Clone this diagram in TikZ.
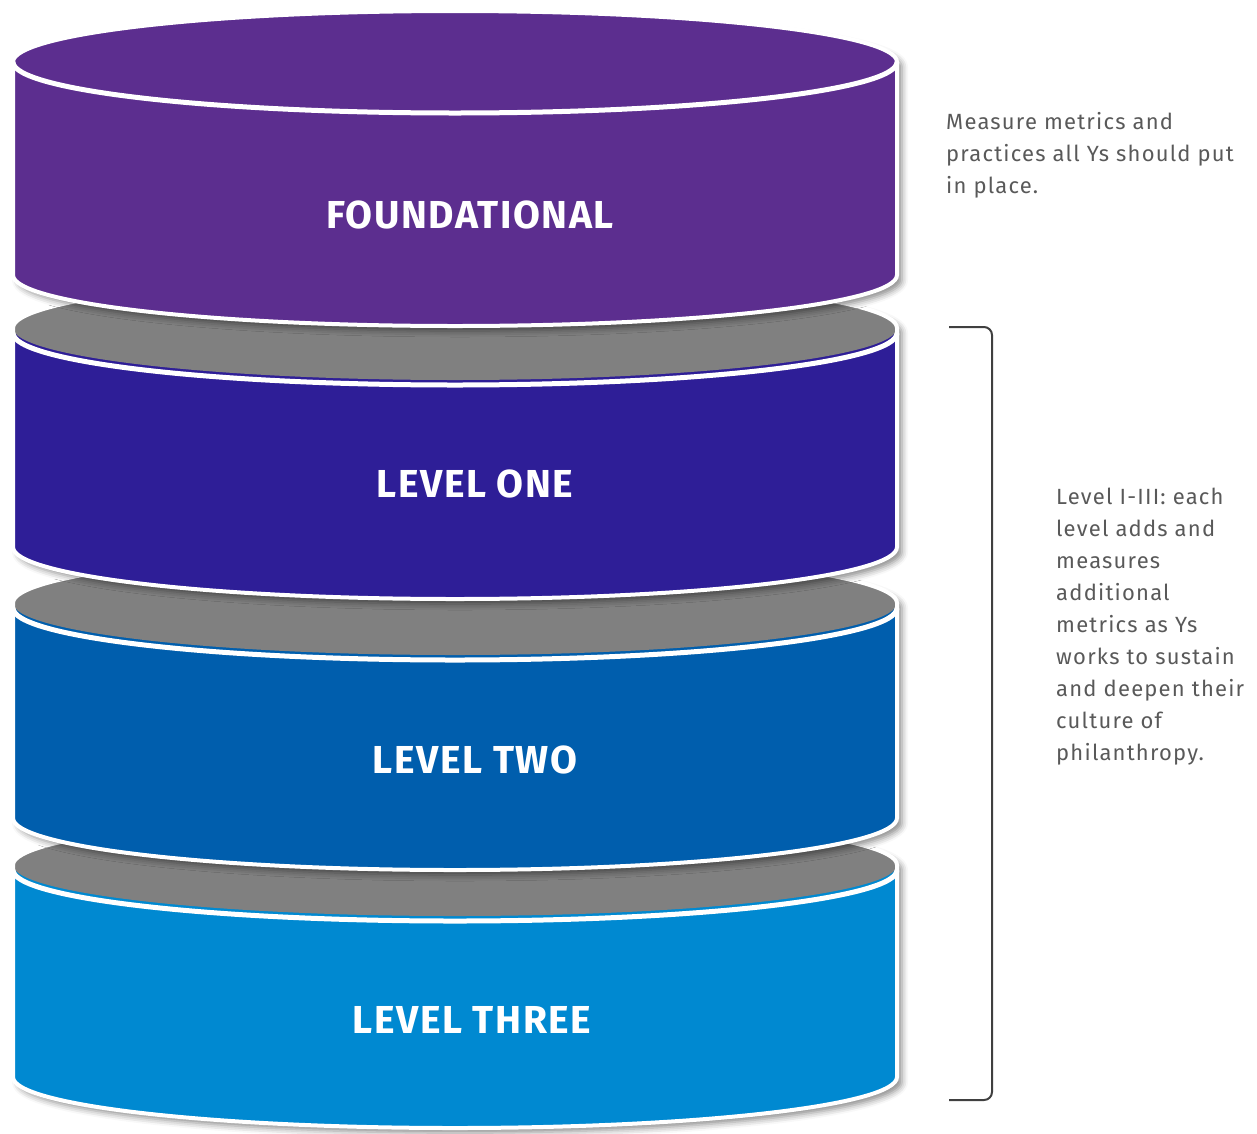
\documentclass[tikz,border=0pt]{standalone}
\usepackage{fontspec}
\setmainfont{Fira Sans}
\newfontfamily\notefont{Fira Sans}[LetterSpace=5.5]
\newfontfamily\titlefont{Fira Sans}[LetterSpace=4]
\usetikzlibrary{calc,shapes,backgrounds,shadows,shadows.blur,positioning}
\definecolor{found}{HTML}{5C2E8F}
\definecolor{lvlone}{HTML}{2E1E97}
\definecolor{lvltwo}{HTML}{005EAD}
\definecolor{lvlthree}{HTML}{0089D1}
\definecolor{lidgrey}{HTML}{808080}
\definecolor{notegrey}{HTML}{595959}
\tikzstyle{drum}=[fill,blur shadow={shadow xshift=5pt,shadow yshift=-5pt,shadow blur radius=6pt,shadow opacity=45}]
\tikzstyle{outline}=[line width=4pt,draw=white]
\tikzstyle{rim}=[line width=5pt,draw=white]
\tikzstyle{title}=[text=white,font=\titlefont\fontsize{39}{44}\selectfont\bfseries,anchor=base]
% base anchor of a multi-line note sits on its last line
\tikzstyle{note}=[text=notegrey,font=\notefont\fontsize{22}{32}\selectfont,align=left,anchor=base west,inner sep=0pt]
\tikzstyle{bracket}=[draw=black!75,line width=2pt,rounded corners=8pt]

% drum slice: #1 lid centre, #2 base centre, #3 ellipse half height,
% #4 body colour, #5 lid colour, #6 drop of the white rim under the lid
\newcommand{\drumslice}[6]{%
  \path[drum,fill=#4] (13,-#1) arc[start angle=180,end angle=0,x radius=442pt,y radius=#3pt]
     -- (897,-#2) arc[start angle=0,end angle=-180,x radius=442pt,y radius=#3pt] -- cycle;
  \fill[#5] (455,-#1) ellipse[x radius=442pt,y radius=#3pt];
  \draw[rim] (13,{-#1-#6}) arc[start angle=180,end angle=360,x radius=442pt,y radius=#3pt];
  \draw[outline] (13,-#1) arc[start angle=180,end angle=0,x radius=442pt,y radius=#3pt]
     -- (897,-#2) arc[start angle=0,end angle=-180,x radius=442pt,y radius=#3pt] -- cycle;
}

\begin{document}
\begin{tikzpicture}[x=1pt,y=1pt]
    \useasboundingbox (0,0) rectangle (1257,-1133);

    % stack, bottom slice first so each one sits over the next
    \drumslice{865}{1077}{51}{lvlthree}{lidgrey}{5}
    \drumslice{603}{818}{52}{lvltwo}{lidgrey}{5}
    \drumslice{328}{547}{52}{lvlone}{lidgrey}{5}
    \drumslice{62}{275}{51}{found}{found}{0}

    % labels on the slices
    \node (found) [title] at (470,-228) {FOUNDATIONAL};
    \node (one) [title] at (475,-497) {LEVEL ONE};
    \node (two) [title] at (475,-773) {LEVEL TWO};
    \node (three) [title] at (472,-1033) {LEVEL THREE};

    % notes on the right
    \node (foundnote) [note] at (946,-193) {Measure metrics and\\practices all Ys should put\\in place.};
    \node (levelnote) [note] at (1056,-760) {Level I-III: each\\level adds and\\measures\\additional\\metrics as Ys\\works to sustain\\and deepen their\\culture of\\philanthropy.};

    % bracket over levels one to three
    \coordinate (brtop) at (949,-327);
    \coordinate (brbot) at (949,-1100);
    \draw[bracket] (brtop) -- ++(43,0) |- (brbot);
\end{tikzpicture}
\end{document}
